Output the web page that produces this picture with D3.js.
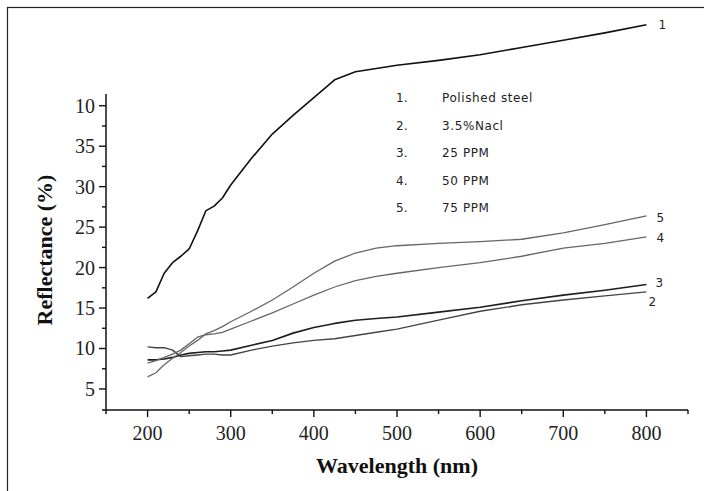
<!DOCTYPE html>
<html><head><meta charset="utf-8">
<script src="https://cdn.jsdelivr.net/npm/d3@7"></script>
<style>body{margin:0;background:#fff}svg{display:block}</style>
</head><body><svg id="c" width="704" height="491"></svg>
<script>
const wavelengths = [200,210,220,230,240,250,260,270,280,290,300,325,350,375,400,425,450,475,500,550,600,650,700,750,800];
const polishedSteel = [16.2,17.0,19.3,20.6,21.4,22.3,24.5,27.0,27.6,28.6,30.2,33.5,36.5,38.8,41.0,43.2,44.2,44.6,45.0,45.6,46.3,47.2,48.1,49.0,50.0];
const nacl = [10.2,10.1,10.1,9.8,9.0,9.1,9.2,9.3,9.3,9.2,9.2,9.8,10.3,10.7,11.0,11.2,11.6,12.0,12.4,13.5,14.6,15.4,16.0,16.5,17.0];
const ppm25 = [8.6,8.6,8.7,8.9,9.2,9.4,9.5,9.6,9.6,9.7,9.8,10.4,11.0,11.9,12.6,13.1,13.5,13.7,13.9,14.5,15.1,15.9,16.6,17.2,17.9];
const ppm50 = [8.2,8.5,8.9,9.3,9.8,10.6,11.4,11.7,11.8,12.0,12.4,13.4,14.4,15.5,16.6,17.6,18.4,18.9,19.3,20.0,20.6,21.4,22.4,23.0,23.8];
const ppm75 = [6.5,7.0,8.0,8.8,9.5,10.3,11.0,11.8,12.2,12.7,13.3,14.6,16.0,17.6,19.3,20.8,21.8,22.4,22.7,23.0,23.2,23.5,24.3,25.3,26.4];
const seriesNames = ["Polished steel","3.5%Nacl","25 PPM","50 PPM","75 PPM"];
const seriesNums = ["1","2","3","4","5"];
const xTickValues = [200,300,400,500,600,700,800];
const xTickLabels = ["200","300","400","500","600","700","800"];
const yTickValues = [5,10,15,20,25,30,35,40];
const yTickLabels = ["5","10","15","20","25","30","35","10"];

const seriesData = [polishedSteel, nacl, ppm25, ppm50, ppm75];
const colors = ["#111","#444","#1e1e1e","#666","#666"];
const widths = [1.6,1.4,1.6,1.3,1.3];

const svg = d3.select("#c");
svg.append("rect").attr("x",7.5).attr("y",7.5).attr("width",720).attr("height",520)
  .attr("fill","none").attr("stroke","#222").attr("stroke-width",1.2);

const x = d3.scaleLinear().domain([150,850]).range([106,688]);
const y = d3.scaleLinear().domain([2.4,41.45]).range([410,94]);

const serif = "'Liberation Serif','Times New Roman',serif";

// x axis
const xAxis = svg.append("g").attr("transform","translate(0,410)");
xAxis.append("line").attr("x1",102).attr("x2",688).attr("stroke","#111").attr("stroke-width",1.5);
d3.range(200,851,50).forEach(v=>{
  const major = v%100===0;
  xAxis.append("line").attr("x1",x(v)).attr("x2",x(v)).attr("y1",0).attr("y2",major?7:4)
    .attr("stroke","#111").attr("stroke-width",1.4);
});
xTickValues.forEach((v,i)=>{
  xAxis.append("text").attr("x",x(v)).attr("y",30).attr("text-anchor","middle")
    .attr("font-family",serif).attr("font-size",20).attr("fill","#222").text(xTickLabels[i]);
});

// y axis
const yAxis = svg.append("g").attr("transform","translate(106,0)");
yAxis.append("line").attr("y1",94).attr("y2",414).attr("stroke","#111").attr("stroke-width",1.5);
d3.range(5,41,2.5).forEach(v=>{
  const major = v%5===0;
  yAxis.append("line").attr("x1",major?-7:-4).attr("x2",0).attr("y1",y(v)).attr("y2",y(v))
    .attr("stroke","#111").attr("stroke-width",1.4);
});
yTickValues.forEach((v,i)=>{
  yAxis.append("text").attr("x",-11).attr("y",y(v)).attr("dy","0.35em").attr("text-anchor","end")
    .attr("font-family",serif).attr("font-size",20).attr("fill","#222").text(yTickLabels[i]);
});

// titles
svg.append("text").attr("x",397).attr("y",473).attr("text-anchor","middle")
  .attr("font-family",serif).attr("font-weight","bold").attr("font-size",22).attr("fill","#111")
  .text("Wavelength (nm)");
svg.append("text").attr("transform","translate(52,250) rotate(-90)").attr("text-anchor","middle")
  .attr("font-family",serif).attr("font-weight","bold").attr("font-size",22).attr("fill","#111")
  .text("Reflectance (%)");

// lines
const line = d3.line().x((d,i)=>x(wavelengths[i])).y(d=>y(d));
seriesData.forEach((s,k)=>{
  svg.append("path").datum(s).attr("d",line).attr("fill","none")
    .attr("stroke",colors[k]).attr("stroke-width",widths[k]).attr("stroke-linejoin","round");
});

// end labels
const endOffsets = [[12,0],[2,10],[9,-2],[10,1],[10,2]];
const sans = "'DejaVu Sans',sans-serif";
seriesData.forEach((s,k)=>{
  const last = s[s.length-1];
  svg.append("text").attr("x",x(800)+endOffsets[k][0]).attr("y",y(last)+endOffsets[k][1]).attr("dy","0.35em")
    .attr("font-family",sans).attr("font-size",12).attr("fill","#222").text(seriesNums[k]);
});

// legend
seriesNames.forEach((n,i)=>{
  const yy = 98 + i*27.5;
  svg.append("text").attr("x",396).attr("y",yy).attr("dy","0.35em")
    .attr("font-family",sans).attr("font-size",12).attr("fill","#222").text(seriesNums[i]+".");
  svg.append("text").attr("x",442).attr("y",yy).attr("dy","0.35em")
    .attr("font-family",sans).attr("font-size",12).attr("letter-spacing","0.6px").attr("fill","#222").text(n);
});
</script></body></html>
